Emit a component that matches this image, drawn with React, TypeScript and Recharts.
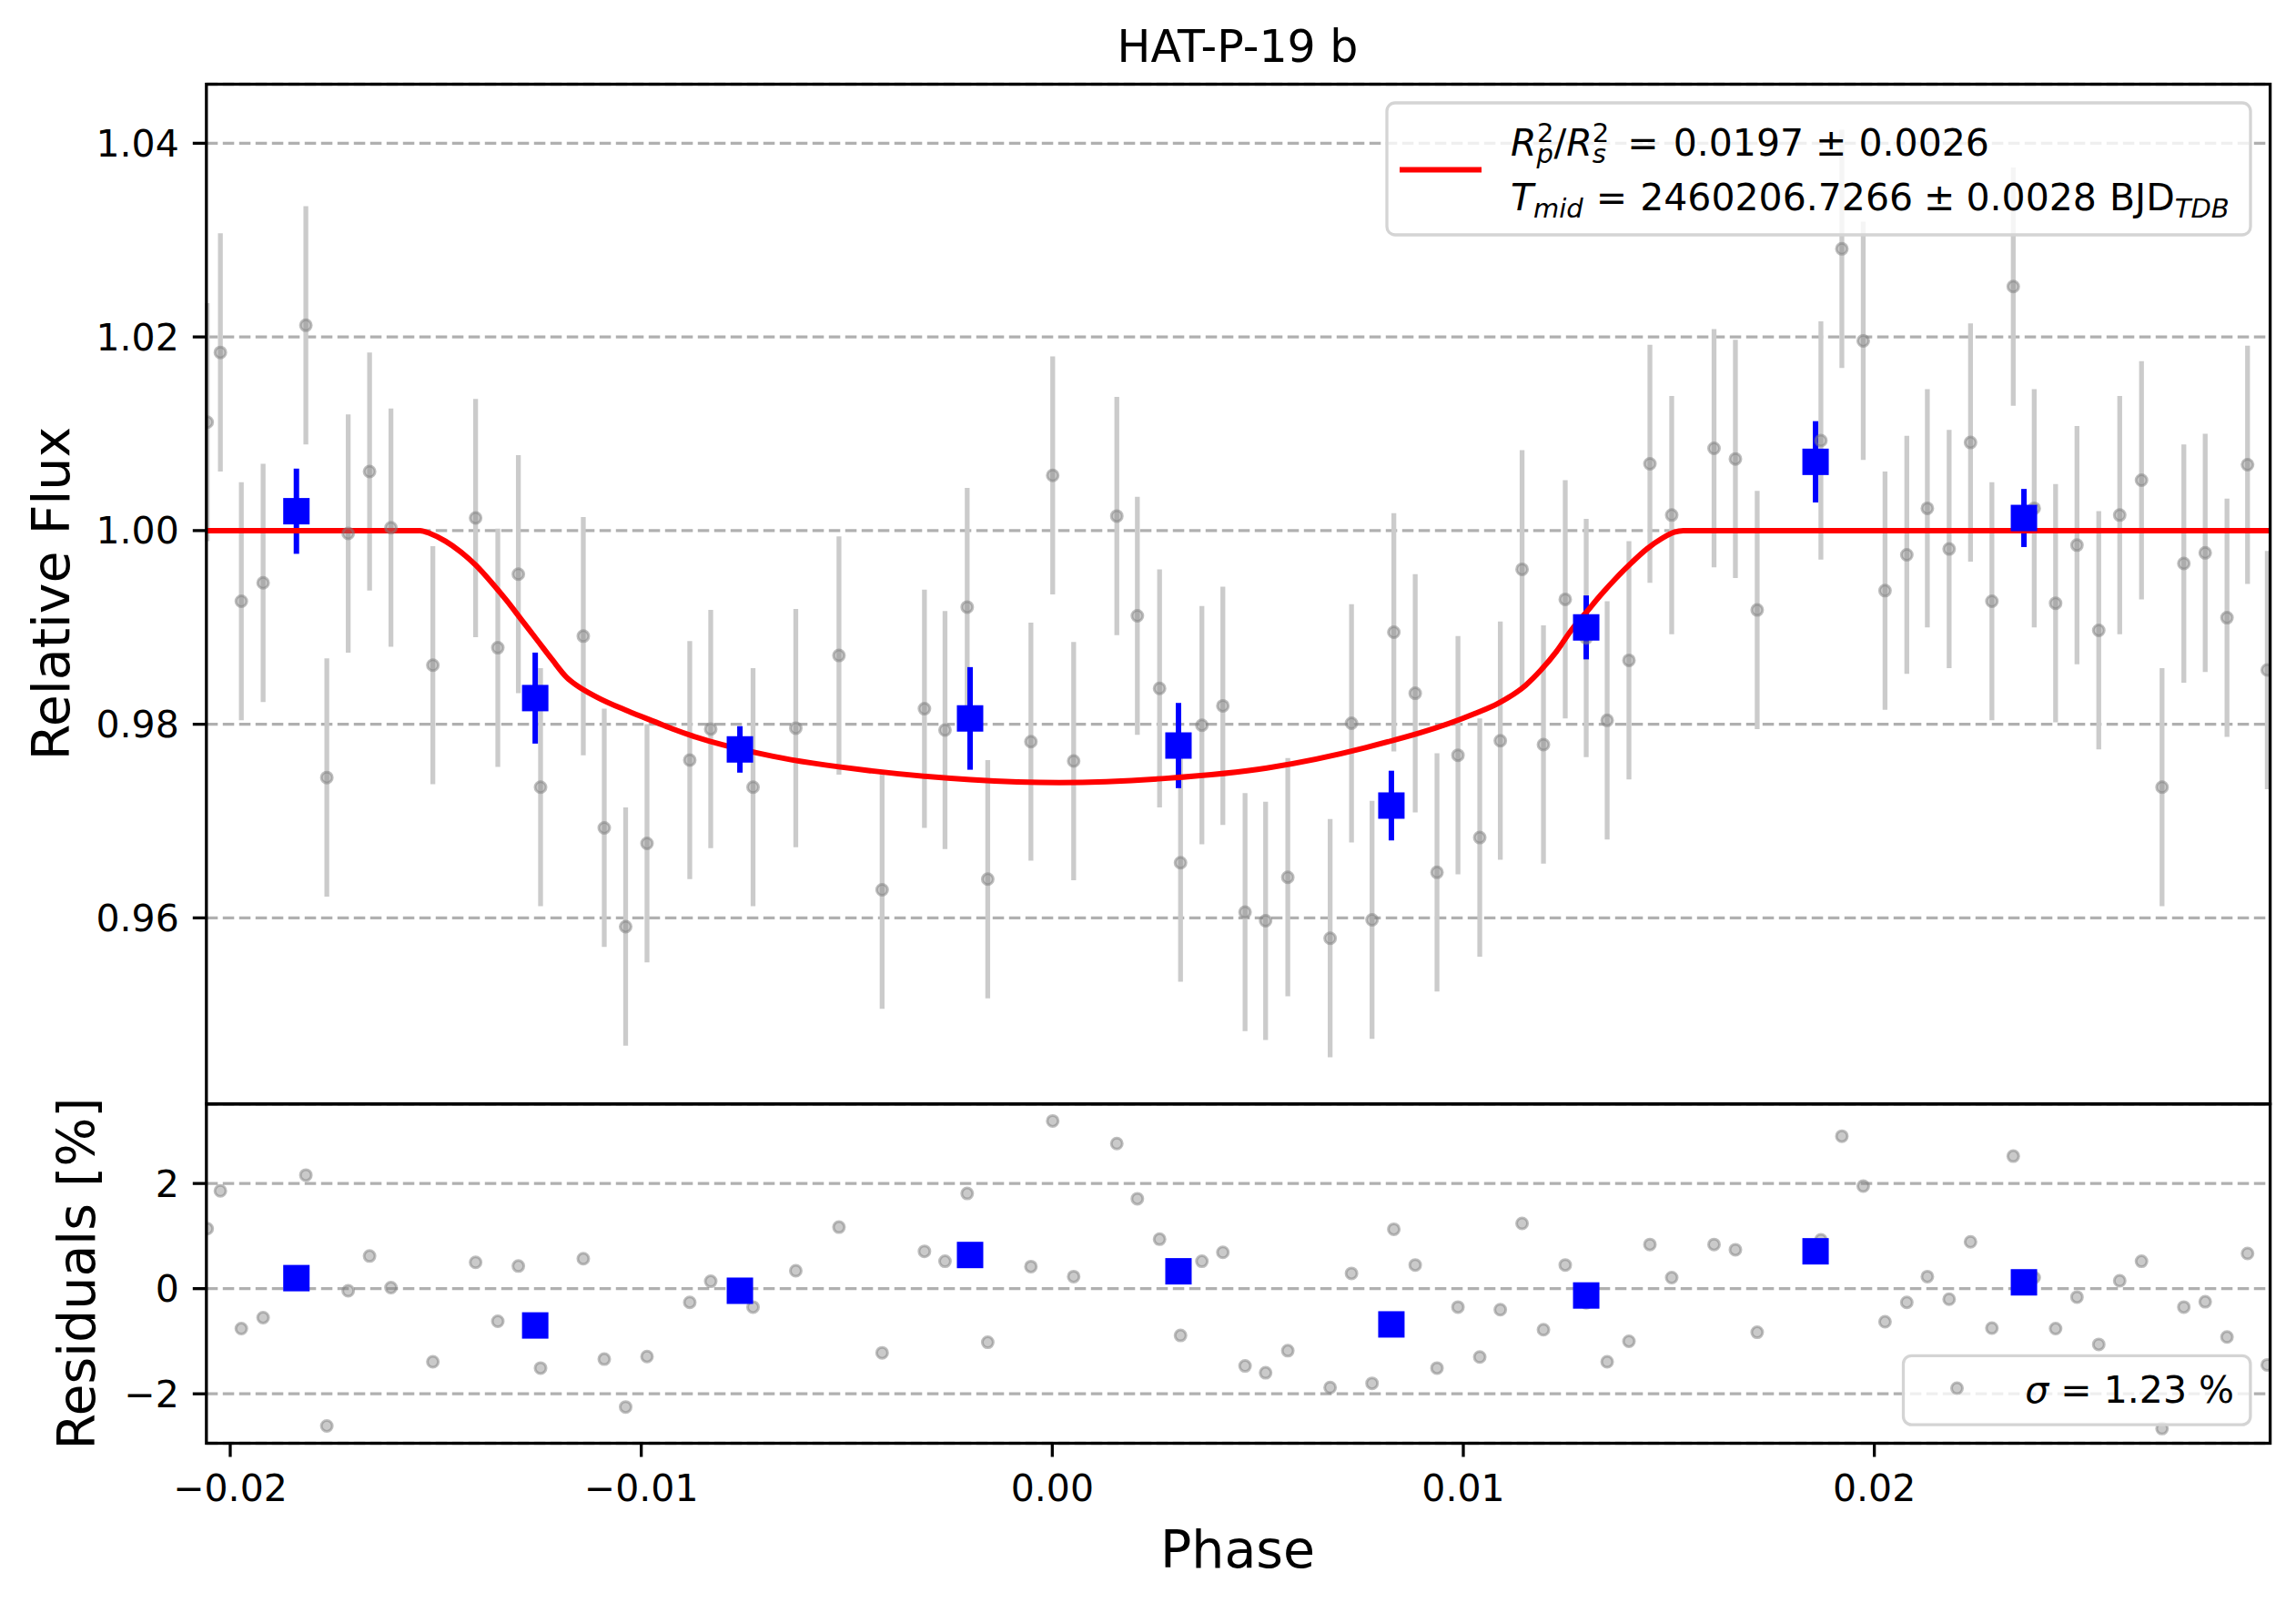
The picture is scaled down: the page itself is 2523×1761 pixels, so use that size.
import React from 'react';
import {
  ComposedChart,
  Scatter,
  Line,
  XAxis,
  YAxis,
  CartesianGrid,
  ErrorBar,
} from 'recharts';

// ---------------- data ----------------
const grayPhase = [
  -0.02056, -0.02024, -0.01973, -0.0192, -0.01816, -0.01765, -0.01713, -0.01661, -0.01609, -0.01507,
  -0.01403, -0.01349, -0.01299, -0.01245, -0.01141, -0.0109, -0.01038, -0.00986, -0.00882, -0.00831,
  -0.00728, -0.00624, -0.00519, -0.00414, -0.00311, -0.00261, -0.00207, -0.00157, -0.00052, 0.00001,
  0.00052, 0.00157, 0.00207, 0.00261, 0.00312, 0.00364, 0.00415, 0.00469, 0.00519, 0.00573,
  0.00676, 0.00728, 0.00778, 0.00831, 0.00883, 0.00936, 0.00987, 0.0104, 0.0109, 0.01143,
  0.01195, 0.01248, 0.01299, 0.0135, 0.01403, 0.01454, 0.01507, 0.0161, 0.01662, 0.01715,
  0.0187, 0.01921, 0.01973, 0.02026, 0.02079, 0.02129, 0.02182, 0.02234, 0.02286, 0.02338,
  0.02389, 0.02441, 0.02493, 0.02546, 0.02597, 0.0265, 0.027, 0.02753, 0.02805, 0.02858,
  0.02908, 0.02956,
];
const grayFlux = [
  1.0112, 1.0184, 0.9927, 0.9946, 1.0212, 0.9745, 0.9997, 1.0061, 1.0003, 0.9861,
  1.0013, 0.9879, 0.9955, 0.9735, 0.9891, 0.9693, 0.9591, 0.9677, 0.9763, 0.9795,
  0.9735, 0.9796, 0.9871, 0.9629, 0.9816, 0.9794, 0.9921, 0.964, 0.9782, 1.0057,
  0.9762, 1.0015, 0.9912, 0.9837, 0.9657, 0.9799, 0.9819, 0.9606, 0.9597, 0.9642,
  0.9579, 0.9801, 0.9598, 0.9895, 0.9832, 0.9647, 0.9768, 0.9683, 0.9783, 0.996,
  0.9779, 0.9929, 0.9889, 0.9804, 0.9866, 1.0069, 1.0016, 1.0085, 1.0074, 0.9918,
  1.0093, 1.0291, 1.0196, 0.9938, 0.9975, 1.0023, 0.9981, 1.0091, 0.9927, 1.0252,
  1.0023, 0.9925, 0.9985, 0.9897, 1.0016, 1.0052, 0.9735, 0.9966, 0.9977, 0.991,
  1.0068, 0.9856,
];
const grayErr = [
  0.0123, 0.0123, 0.0123, 0.0123, 0.0123, 0.0123, 0.0123, 0.0123, 0.0123, 0.0123,
  0.0123, 0.0123, 0.0123, 0.0123, 0.0123, 0.0123, 0.0123, 0.0123, 0.0123, 0.0123,
  0.0123, 0.0123, 0.0123, 0.0123, 0.0123, 0.0123, 0.0123, 0.0123, 0.0123, 0.0123,
  0.0123, 0.0123, 0.0123, 0.0123, 0.0123, 0.0123, 0.0123, 0.0123, 0.0123, 0.0123,
  0.0123, 0.0123, 0.0123, 0.0123, 0.0123, 0.0123, 0.0123, 0.0123, 0.0123, 0.0123,
  0.0123, 0.0123, 0.0123, 0.0123, 0.0123, 0.0123, 0.0123, 0.0123, 0.0123, 0.0123,
  0.0123, 0.0123, 0.0123, 0.0123, 0.0123, 0.0123, 0.0123, 0.0123, 0.0123, 0.0123,
  0.0123, 0.0123, 0.0123, 0.0123, 0.0123, 0.0123, 0.0123, 0.0123, 0.0123, 0.0123,
  0.0123, 0.0123,
];
const grayResid = [
  1.14, 1.86, -0.76, -0.55, 2.16, -2.61, -0.04, 0.62, 0.02, -1.39,
  0.5, -0.62, 0.43, -1.51, 0.57, -1.34, -2.25, -1.29, -0.26, 0.14,
  -0.35, 0.34, 1.17, -1.22, 0.71, 0.52, 1.81, -1.02, 0.42, 3.19,
  0.23, 2.76, 1.71, 0.94, -0.89, 0.52, 0.69, -1.47, -1.6, -1.18,
  -1.88, 0.29, -1.8, 1.13, 0.45, -1.51, -0.35, -1.3, -0.4, 1.24,
  -0.78, 0.45, -0.27, -1.39, -1.0, 0.84, 0.21, 0.84, 0.74, -0.83,
  0.93, 2.9, 1.95, -0.63, -0.26, 0.23, -0.2, 0.89, -0.75, 2.52,
  0.21, -0.76, -0.16, -1.06, 0.15, 0.52, -2.66, -0.35, -0.25, -0.92,
  0.67, -1.45,
];

const binPhase = [-0.01839, -0.01258, -0.0076, -0.002, 0.00307, 0.00825, 0.01299, 0.01857, 0.02364];
const binFlux = [1.002, 0.9827, 0.9774, 0.9806, 0.9778, 0.9716, 0.99, 1.0071, 1.0013];
const binErr = [0.0044, 0.0047, 0.0024, 0.0053, 0.0044, 0.0036, 0.0033, 0.0042, 0.003];
const binResid = [0.2, -0.7, -0.04, 0.64, 0.33, -0.68, -0.13, 0.71, 0.12];

const modelPhase = [
  -0.02058, -0.01538, -0.01513, -0.01476, -0.01439, -0.01402, -0.01365, -0.01328, -0.01291, -0.01254,
  -0.01217, -0.01181, -0.01158, -0.01107, -0.01033, -0.00959, -0.00922, -0.00679, -0.00439, -0.00199,
  0.00017, 0.00282, 0.00522, 0.00762, 0.01026, 0.01085, 0.01152, 0.01189, 0.01226, 0.01262,
  0.01299, 0.01336, 0.01373, 0.0141, 0.01447, 0.01484, 0.01513, 0.01535, 0.02963,
];
const modelFlux = [
  1.0, 1.0, 0.99968, 0.9989, 0.9978, 0.9964, 0.99468, 0.9928, 0.99076, 0.98873,
  0.98669, 0.98482, 0.98404, 0.98278, 0.98137, 0.98012, 0.97949, 0.97668, 0.97518, 0.97428,
  0.97398, 0.97443, 0.97548, 0.97758, 0.98106, 0.98216, 0.98404, 0.9856, 0.98747, 0.98967,
  0.99155, 0.99343, 0.99515, 0.99671, 0.99812, 0.99921, 0.99984, 1.0, 1.0,
];

const phaseTicks = [-0.02, -0.01, 0, 0.01, 0.02];
const phaseTickLabels = ['\u22120.02', '\u22120.01', '0.00', '0.01', '0.02'];
const fluxTicks = [0.96, 0.98, 1.0, 1.02, 1.04];
const fluxTickLabels = ['0.96', '0.98', '1.00', '1.02', '1.04'];
const residTicks = [-2, 0, 2];
const residTickLabels = ['\u22122', '0', '2'];

const phaseDomain = [-0.02058, 0.02963];
const fluxDomain = [0.9408, 1.0461];
const residDomain = [-2.94, 3.51];

// ---------------- derived tables ----------------
const grayData = grayPhase.map((p, i) => ({ phase: p, flux: grayFlux[i], err: grayErr[i], resid: grayResid[i] }));
const binData = binPhase.map((p, i) => ({ phase: p, flux: binFlux[i], err: binErr[i], resid: binResid[i] }));
const modelData = modelPhase.map((p, i) => ({ phase: p, flux: modelFlux[i] }));

const FONT = 'DejaVu Sans';
const W = 2523;
const H = 1761;
const PLOT_LEFT = 226.8;
const PLOT_RIGHT = 2494.6;
const MAIN_TOP = 92.5;
const MAIN_BOTTOM = 1212.6;
const RES_TOP = 1212.9;
const RES_BOTTOM = 1585.5;
const RES_CHART_TOP = 1150;
const RES_CHART_H = 611;
const YAXIS_W = 140;

const lookup = (ticks: number[], labels: string[]) => (v: number) => {
  const i = ticks.findIndex((t) => Math.abs(t - v) < 1e-9);
  return i >= 0 ? labels[i] : String(v);
};

const GrayDot = (props: any) => {
  const { cx, cy } = props;
  if (cx == null || cy == null || isNaN(cx) || isNaN(cy)) return null;
  return (
    <circle
      cx={cx}
      cy={cy}
      r={6}
      fill="#808080"
      fillOpacity={0.42}
      stroke="#808080"
      strokeOpacity={0.5}
      strokeWidth={3}
    />
  );
};

const BlueSquare = (props: any) => {
  const { cx, cy } = props;
  if (cx == null || cy == null || isNaN(cx) || isNaN(cy)) return null;
  return <rect x={cx - 14.5} y={cy - 14.5} width={29} height={29} fill="#0000ff" />;
};

const tickStyle = { fill: '#000', fontSize: 41, fontFamily: FONT };

export default function App() {
  return (
    <div style={{ position: 'absolute', left: 0, top: 0, width: W, height: H, background: '#fff', overflow: 'hidden' }}>
      {/* main panel */}
      <div style={{ position: 'absolute', left: 0, top: 0 }}>
        <ComposedChart
          width={W}
          height={1213}
          margin={{ top: MAIN_TOP, right: W - PLOT_RIGHT, bottom: 1213 - MAIN_BOTTOM, left: PLOT_LEFT - YAXIS_W }}
        >
          <CartesianGrid vertical={false} stroke="#b0b0b0" strokeDasharray="12.5 5.5" strokeWidth={3.3} />
          <XAxis
            dataKey="phase"
            type="number"
            domain={phaseDomain}
            allowDataOverflow
            ticks={phaseTicks}
            hide
          />
          <YAxis
            type="number"
            domain={fluxDomain}
            allowDataOverflow
            ticks={fluxTicks}
            interval={0}
            width={YAXIS_W}
            tickFormatter={lookup(fluxTicks, fluxTickLabels)}
            tick={tickStyle}
            tickSize={15}
            tickMargin={15}
            tickLine={{ stroke: '#000', strokeWidth: 3.3 }}
            axisLine={false}
          />
          <Scatter data={grayData} dataKey="flux" shape={GrayDot} isAnimationActive={false}>
            <ErrorBar dataKey="err" direction="y" width={0} stroke="#cbcbcb" strokeWidth={5.3} isAnimationActive={false} />
          </Scatter>
          <Scatter data={binData} dataKey="flux" shape={BlueSquare} isAnimationActive={false}>
            <ErrorBar dataKey="err" direction="y" width={0} stroke="#0000ff" strokeWidth={6} isAnimationActive={false} />
          </Scatter>
          <Line
            data={modelData}
            dataKey="flux"
            type="monotone"
            dot={false}
            activeDot={false}
            stroke="#ff0000"
            strokeWidth={6}
            isAnimationActive={false}
          />
        </ComposedChart>
      </div>

      {/* residual panel */}
      <div style={{ position: 'absolute', left: 0, top: RES_CHART_TOP }}>
        <ComposedChart
          width={W}
          height={RES_CHART_H}
          margin={{
            top: RES_TOP - RES_CHART_TOP,
            right: W - PLOT_RIGHT,
            bottom: RES_CHART_TOP + RES_CHART_H - RES_BOTTOM - 100,
            left: PLOT_LEFT - YAXIS_W,
          }}
        >
          <CartesianGrid vertical={false} stroke="#b0b0b0" strokeDasharray="12.5 5.5" strokeWidth={3.3} />
          <XAxis
            dataKey="phase"
            type="number"
            domain={phaseDomain}
            allowDataOverflow
            ticks={phaseTicks}
            interval={0}
            height={100}
            tickFormatter={lookup(phaseTicks, phaseTickLabels)}
            tick={tickStyle}
            tickSize={15}
            tickMargin={19}
            tickLine={{ stroke: '#000', strokeWidth: 3.3 }}
            axisLine={false}
          />
          <YAxis
            type="number"
            domain={residDomain}
            allowDataOverflow
            ticks={residTicks}
            interval={0}
            width={YAXIS_W}
            tickFormatter={lookup(residTicks, residTickLabels)}
            tick={tickStyle}
            tickSize={15}
            tickMargin={15}
            tickLine={{ stroke: '#000', strokeWidth: 3.3 }}
            axisLine={false}
          />
          <Scatter data={grayData} dataKey="resid" shape={GrayDot} isAnimationActive={false} />
          <Scatter data={binData} dataKey="resid" shape={BlueSquare} isAnimationActive={false} />
        </ComposedChart>
      </div>

      {/* frames, titles, labels and legends */}
      <svg
        width={W}
        height={H}
        style={{ position: 'absolute', left: 0, top: 0, pointerEvents: 'none' }}
        fontFamily={FONT}
      >
        <rect
          x={PLOT_LEFT}
          y={MAIN_TOP}
          width={PLOT_RIGHT - PLOT_LEFT}
          height={MAIN_BOTTOM - MAIN_TOP}
          fill="none"
          stroke="#000"
          strokeWidth={3.3}
        />
        <rect
          x={PLOT_LEFT}
          y={RES_TOP}
          width={PLOT_RIGHT - PLOT_LEFT}
          height={RES_BOTTOM - RES_TOP}
          fill="none"
          stroke="#000"
          strokeWidth={3.3}
        />

        <text x={1360} y={67.8} fontSize={49} textAnchor="middle" fill="#000">HAT-P-19 b</text>
        <text transform="translate(76,652) rotate(-90)" fontSize={57} textAnchor="middle" fill="#000">Relative Flux</text>
        <text transform="translate(104,1399) rotate(-90)" fontSize={57} textAnchor="middle" fill="#000">Residuals [%]</text>
        <text x={1360} y={1722} fontSize={57} textAnchor="middle" fill="#000">Phase</text>

        {/* main legend */}
        <rect x={1524} y={113} width={949} height={145} rx={9} fill="#fff" fillOpacity={0.8} stroke="#d4d4d4" strokeWidth={3.3} />
        <line x1={1538} y1={186.5} x2={1628} y2={186.5} stroke="#ff0000" strokeWidth={6} />
        <text x={1660} y={171} fontSize={41} fill="#000">
          <tspan fontStyle="italic">R</tspan>
          <tspan fontSize={29} fontStyle="italic" dy={8}>p</tspan>
          <tspan fontSize={29} dx={-18} dy={-23}>2</tspan>
          <tspan dy={15}>/</tspan>
          <tspan fontStyle="italic">R</tspan>
          <tspan fontSize={29} fontStyle="italic" dy={8}>s</tspan>
          <tspan fontSize={29} dx={-15} dy={-23}>2</tspan>
          <tspan dy={15} dx={20}>=</tspan>
          <tspan dx={16}>0.0197</tspan>
          <tspan dx={13}>±</tspan>
          <tspan dx={13}>0.0026</tspan>
        </text>
        <text x={1660} y={231} fontSize={41} fill="#000">
          <tspan fontStyle="italic">T</tspan>
          <tspan fontSize={29} fontStyle="italic" dy={8}>mid</tspan>
          <tspan dy={-8} dx={14}>=</tspan>
          <tspan dx={14}>2460206.7266</tspan>
          <tspan dx={12}>±</tspan>
          <tspan dx={12}>0.0028</tspan>
          <tspan dx={14}>BJD</tspan>
          <tspan fontSize={29} fontStyle="italic" dy={8}>TDB</tspan>
        </text>

        {/* residual legend */}
        <rect x={2091.5} y={1489.3} width={381.4} height={75.8} rx={9} fill="#fff" fillOpacity={0.8} stroke="#d4d4d4" strokeWidth={3.3} />
        <circle cx={2150.5} cy={1525} r={6} fill="#808080" fillOpacity={0.42} stroke="#808080" strokeOpacity={0.5} strokeWidth={3} />
        <text x={2455} y={1541} fontSize={41} textAnchor="end" fill="#000">
          <tspan fontStyle="italic">σ</tspan>
          <tspan> = 1.23 %</tspan>
        </text>
      </svg>
    </div>
  );
}
